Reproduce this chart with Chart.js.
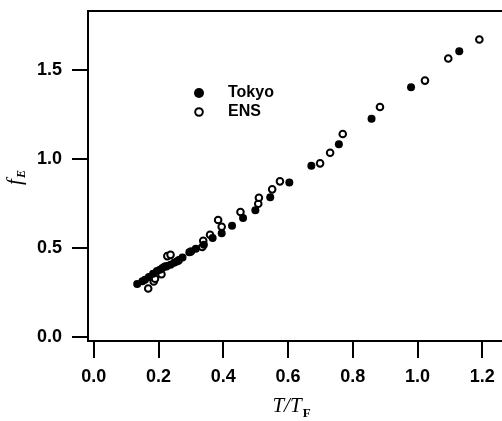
<!DOCTYPE html>
<html>
<head>
<meta charset="utf-8">
<script src="https://cdn.jsdelivr.net/npm/chart.js@4"></script>
<style>
  html, body { margin: 0; padding: 0; background: #fff; overflow: hidden; }
  canvas { display: block; }
</style>
</head>
<body>
<canvas id="chart" width="502" height="421"></canvas>
<script>
// f_E versus T/T_F, Tokyo (filled) and ENS (open) data
const seriesNames = ['Tokyo', 'ENS'];

const tokyoX = [0.134, 0.150, 0.158, 0.170, 0.183, 0.195, 0.204, 0.212, 0.219, 0.237, 0.248, 0.256, 0.274, 0.295,
    0.315, 0.340, 0.367, 0.395, 0.427, 0.461, 0.499, 0.545, 0.604, 0.672, 0.757, 0.858, 0.980, 1.129];
const tokyoY = [0.295, 0.310, 0.319, 0.335, 0.353, 0.368, 0.375, 0.385, 0.394, 0.403, 0.415, 0.422, 0.444, 0.473,
    0.493, 0.516, 0.553, 0.581, 0.623, 0.666, 0.709, 0.782, 0.866, 0.960, 1.080, 1.224, 1.400, 1.603];

const ensX = [0.168, 0.185, 0.189, 0.209, 0.225, 0.227, 0.237, 0.262, 0.300, 0.335, 0.338, 0.359, 0.384, 0.395,
    0.453, 0.508, 0.510, 0.551, 0.575, 0.699, 0.730, 0.769, 0.884, 1.023, 1.095, 1.191];
const ensY = [0.270, 0.309, 0.325, 0.350, 0.395, 0.452, 0.459, 0.428, 0.478, 0.503, 0.538, 0.572, 0.655, 0.617,
    0.700, 0.746, 0.780, 0.827, 0.872, 0.973, 1.033, 1.138, 1.290, 1.438, 1.562, 1.669];

const xTicks = [0.0, 0.2, 0.4, 0.6, 0.8, 1.0, 1.2];
const yTicks = [0.0, 0.5, 1.0, 1.5];

const SANS = '"Liberation Sans", Arial, sans-serif';
const SERIF = '"Liberation Serif", "Times New Roman", serif';

const toPoints = (xs, ys) => xs.map((x, i) => ({ x: x, y: ys[i] }));

// Top frame line, axis titles with subscripts and the inset legend
const decorations = {
    id: 'decorations',
    afterDraw(chart) {
        const ctx = chart.ctx;
        const area = chart.chartArea;
        ctx.save();

        // top frame
        ctx.strokeStyle = '#000';
        ctx.lineWidth = 2;
        ctx.beginPath();
        ctx.moveTo(area.left, area.top);
        ctx.lineTo(area.right, area.top);
        ctx.stroke();

        ctx.fillStyle = '#000';
        ctx.textBaseline = 'alphabetic';

        // x title: T/T_F
        ctx.font = 'italic 21px ' + SERIF;
        const main = 'T/T';
        const mainW = ctx.measureText(main).width;
        ctx.font = 'bold 13px ' + SERIF;
        const subW = ctx.measureText('F').width;
        let tx = 291 - (mainW + subW) / 2;
        ctx.font = 'italic 21px ' + SERIF;
        ctx.fillText(main, tx, 412);
        ctx.font = 'bold 13px ' + SERIF;
        ctx.fillText('F', tx + mainW + 1, 417);

        // y title: f_E, rotated
        ctx.translate(21, 178);
        ctx.rotate(-Math.PI / 2);
        ctx.font = 'italic 21px ' + SERIF;
        const fW = ctx.measureText('f').width;
        ctx.font = 'italic bold 12px ' + SERIF;
        const eW = ctx.measureText('E').width;
        const fx = -(fW + eW) / 2;
        ctx.font = 'italic 21px ' + SERIF;
        ctx.fillText('f', fx, 0);
        ctx.font = 'italic bold 12px ' + SERIF;
        ctx.fillText('E', fx + fW + 1, 4);
        ctx.setTransform(1, 0, 0, 1, 0, 0);

        // legend
        ctx.font = 'bold 16px ' + SANS;
        ctx.textBaseline = 'middle';
        ctx.beginPath();
        ctx.arc(199, 93, 5, 0, Math.PI * 2);
        ctx.fill();
        ctx.fillText(seriesNames[0], 228, 93);

        ctx.beginPath();
        ctx.arc(199, 112, 3.8, 0, Math.PI * 2);
        ctx.lineWidth = 2;
        ctx.stroke();
        ctx.fillText(seriesNames[1], 228, 112);

        ctx.restore();
    }
};

new Chart(document.getElementById('chart'), {
    type: 'scatter',
    data: {
        datasets: [
            {
                label: seriesNames[0],
                data: toPoints(tokyoX, tokyoY),
                pointRadius: 4,
                pointBorderWidth: 0,
                backgroundColor: '#000',
                borderColor: '#000',
            },
            {
                label: seriesNames[1],
                data: toPoints(ensX, ensY),
                pointRadius: 3.3,
                pointBorderWidth: 2,
                backgroundColor: '#fff',
                borderColor: '#000',
            },
        ]
    },
    options: {
        responsive: false,
        animation: false,
        devicePixelRatio: 1,
        layout: { autoPadding: false, padding: { top: 11, right: 0, left: 0, bottom: 0 } },
        plugins: {
            legend: { display: false },
            tooltip: { enabled: false },
        },
        scales: {
            x: {
                type: 'linear',
                min: -0.018,
                max: 1.261,
                afterBuildTicks: (axis) => { axis.ticks = xTicks.map(v => ({ value: v })); },
                afterFit: (axis) => {
                    axis.height = 80;
                    axis.paddingLeft = 0;
                    axis.paddingRight = 0;
                },
                ticks: {
                    color: '#000',
                    font: { family: SANS, size: 18, weight: 'bold' },
                    padding: 8,
                    maxRotation: 0,
                    callback: (v) => v.toFixed(1),
                },
                grid: { drawOnChartArea: false, drawTicks: true, tickLength: 17, color: '#000', lineWidth: 2 },
                border: { color: '#000', width: 2 },
            },
            y: {
                type: 'linear',
                min: -0.025,
                max: 1.829,
                afterBuildTicks: (axis) => { axis.ticks = yTicks.map(v => ({ value: v })); },
                afterFit: (axis) => {
                    axis.width = 88;
                    axis.paddingTop = 0;
                    axis.paddingBottom = 0;
                },
                ticks: {
                    color: '#000',
                    font: { family: SANS, size: 18, weight: 'bold' },
                    padding: 10,
                    callback: (v) => v.toFixed(1),
                },
                grid: { drawOnChartArea: false, drawTicks: true, tickLength: 16, color: '#000', lineWidth: 2 },
                border: { color: '#000', width: 2 },
            },
        },
    },
    plugins: [decorations]
});
</script>
</body>
</html>
